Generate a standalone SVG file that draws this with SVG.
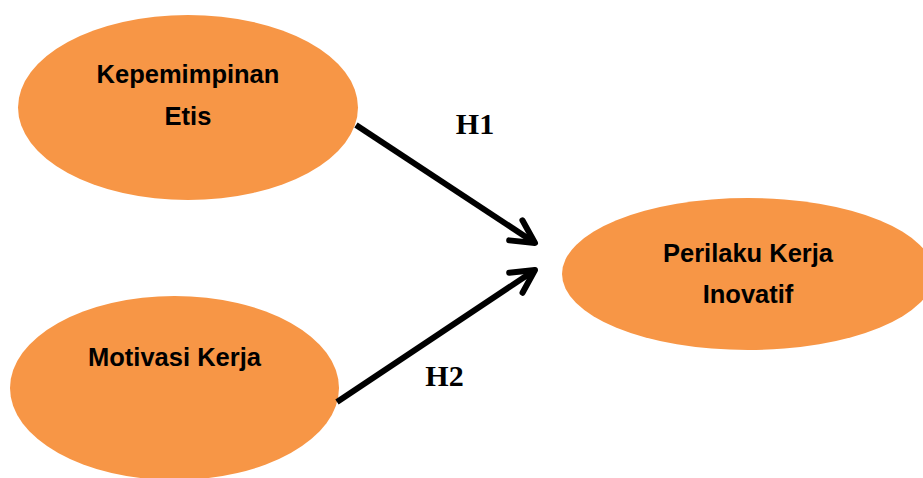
<svg xmlns="http://www.w3.org/2000/svg" width="923" height="478" viewBox="0 0 923 478">
  <style>
    .node { fill: #F79646; }
    .lbl { font-family: "Liberation Sans", Arial, sans-serif; font-weight: bold; font-size: 25.5px; fill: #000; text-anchor: middle; }
    .hyp { font-family: "Liberation Serif", "Times New Roman", serif; font-weight: bold; font-size: 30px; fill: #000; text-anchor: middle; }
    .conn { stroke: #000; stroke-width: 6; fill: none; marker-end: url(#chev); }
  </style>
  <defs>
    <marker id="chev" markerUnits="userSpaceOnUse" viewBox="-30 -20 36 40" markerWidth="36" markerHeight="40" refX="0" refY="0" orient="auto" overflow="visible">
      <path d="M -23 -12 L 0 0 L -23 12" fill="none" stroke="#000" stroke-width="6" stroke-linecap="round" stroke-linejoin="round"/>
    </marker>
  </defs>
  <rect width="923" height="478" fill="#fff"/>
  <g id="node-kepemimpinan">
    <ellipse class="node" cx="188" cy="107.5" rx="170" ry="92.5"/>
    <text class="lbl" x="188" y="83">Kepemimpinan</text>
    <text class="lbl" x="188" y="125">Etis</text>
  </g>
  <g id="node-motivasi">
    <ellipse class="node" cx="174.5" cy="388" rx="164.5" ry="92"/>
    <text class="lbl" x="174.5" y="366">Motivasi Kerja</text>
  </g>
  <g id="node-perilaku">
    <ellipse class="node" cx="748" cy="274" rx="186" ry="76"/>
    <text class="lbl" x="748" y="262">Perilaku Kerja</text>
    <text class="lbl" x="748" y="303">Inovatif</text>
  </g>
  <g id="connectors">
    <path class="conn" d="M 356 125 L 535 243"/>
    <path class="conn" d="M 337 402 L 535 270"/>
  </g>
  <g id="labels">
    <text class="hyp" x="475" y="134">H1</text>
    <text class="hyp" x="444.5" y="386">H2</text>
  </g>
</svg>
